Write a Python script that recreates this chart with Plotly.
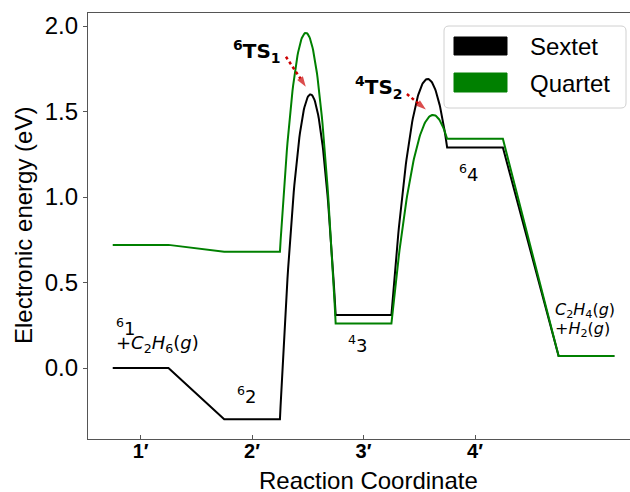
import numpy as np
import plotly.graph_objects as go

# ---------------- data ----------------
tick_labels = ["1′", "2′", "3′", "4′"]
tick_pos = [1, 2, 3, 4]
state_pos = [1, 2, 3, 4, 5]
sextet_E = [0.00, -0.30, 0.31, 1.29, 0.07]
quartet_E = [0.72, 0.68, 0.26, 1.34, 0.07]
sextet_TS = [1.60, 1.69]     # barrier tops between states 2-3 and 3-4
quartet_TS = [1.96, 1.48]
ts_after = [1, 2]            # index of the state preceding each TS
series_names = ["Sextet", "Quartet"]
series_colors = ["#000000", "#008000"]

HALF = 0.25  # half width of a level


def profile(E, TS):
    xs, ys = [], []
    for i, (p, e) in enumerate(zip(state_pos, E)):
        x0, x1 = p - HALF, p + HALF
        if i > 0 and (i - 1) in ts_after:
            k = ts_after.index(i - 1)
            prev_end = state_pos[i - 1] + HALF
            yv, ya, yb = TS[k], E[i - 1], e
            da, db = np.sqrt(yv - ya), np.sqrt(yv - yb)
            xv = prev_end + (x0 - prev_end) * da / (da + db)
            a = (yv - ya) / (prev_end - xv) ** 2
            t = np.linspace(prev_end, x0, 90)[1:-1]
            xs += list(t)
            ys += list(yv - a * (t - xv) ** 2)
        xs += [x0, x1]
        ys += [e, e]
    return xs, ys


fig = go.Figure()
for name, E, TS, col in zip(series_names, [sextet_E, quartet_E],
                            [sextet_TS, quartet_TS], series_colors):
    xs, ys = profile(E, TS)
    fig.add_trace(go.Scatter(x=xs, y=ys, mode="lines", name=name,
                             line=dict(color=col, width=2), showlegend=False,
                             hoverinfo="skip"))

# ---------------- geometry helpers ----------------
# the reference axes run past the right edge of the 630-px picture,
# so the figure is drawn a little wider and the window crops it
W, H = 648, 492
L, R, T, B = 88, 648, 13, 439


def pxx(x):
    return (x - L) / (R - L)


def pxy(y):
    return (B - y) / (B - T)


LABEL_FONT = "DejaVu Sans"
AX_FONT = "Liberation Sans, Arial, sans-serif"

ann = []
# state labels
ann += [
    dict(x=0.761, y=0.238, text="<sup>6</sup>1", xanchor="left", yanchor="middle"),
    dict(x=0.761, y=0.138, text="+<i>C</i><sub>2</sub><i>H</i><sub>6</sub>(<i>g</i>)",
         xanchor="left", yanchor="middle"),
    dict(x=1.946, y=-0.158, text="<sup>6</sup>2", xanchor="center", yanchor="middle"),
    dict(x=2.948, y=0.14, text="<sup>4</sup>3", xanchor="center", yanchor="middle"),
    dict(x=3.946, y=1.14, text="<sup>6</sup>4", xanchor="center", yanchor="middle"),
]
for a in ann:
    a.update(xref="x", yref="y", showarrow=False,
             font=dict(family=LABEL_FONT, size=18, color="black"))
small = [
    dict(x=4.697, y=0.338, text="<i>C</i><sub>2</sub><i>H</i><sub>4</sub>(<i>g</i>)"),
    dict(x=4.697, y=0.224, text="+<i>H</i><sub>2</sub>(<i>g</i>)"),
]
for a in small:
    a.update(xref="x", yref="y", showarrow=False, xanchor="left", yanchor="middle",
             font=dict(family=LABEL_FONT, size=16, color="black"))
ann += small
ts_lab = [
    dict(x=2.04, y=1.85, text="<b><sup>6</sup>TS<sub>1</sub></b>"),
    dict(x=3.139, y=1.643, text="<b><sup>4</sup>TS<sub>2</sub></b>"),
]
for a in ts_lab:
    a.update(xref="x", yref="y", showarrow=False, xanchor="center", yanchor="middle",
             font=dict(family=LABEL_FONT, size=20, color="black"))
ann += ts_lab

# arrows (dotted line ending in a filled head)
arrows = [((2.304, 1.820), (2.511, 1.616)), ((3.389, 1.602), (3.587, 1.497))]
for (sx, sy), (ex, ey) in arrows:
    f = 0.86
    mx, my = sx + f * (ex - sx), sy + f * (ey - sy)
    fig.add_trace(go.Scatter(x=[sx, mx], y=[sy, my], mode="lines+markers",
                             line=dict(color="#cc0000", width=2.5, dash="dot"),
                             marker=dict(symbol="arrow", angleref="previous",
                                         size=[0, 11], color="#cc0000",
                                         line=dict(width=0)),
                             showlegend=False, hoverinfo="skip"))

# axis titles
ann.append(dict(xref="paper", yref="paper", x=0.5, y=pxy(480),
                text="Reaction Coordinate", showarrow=False, xanchor="center",
                yanchor="middle", font=dict(family=AX_FONT, size=24, color="black")))
ann.append(dict(xref="paper", yref="paper", x=pxx(23), y=pxy(226),
                text="Electronic energy (eV)", showarrow=False, textangle=-90,
                xanchor="center", yanchor="middle",
                font=dict(family=AX_FONT, size=24, color="black")))

shapes = []
# legend (drawn)
lx0, lx1, ly0, ly1, r = 444, 626, 26, 108, 5
path = (f"M {pxx(lx0 + r)},{pxy(ly0)} L {pxx(lx1 - r)},{pxy(ly0)} "
        f"Q {pxx(lx1)},{pxy(ly0)} {pxx(lx1)},{pxy(ly0 + r)} "
        f"L {pxx(lx1)},{pxy(ly1 - r)} Q {pxx(lx1)},{pxy(ly1)} {pxx(lx1 - r)},{pxy(ly1)} "
        f"L {pxx(lx0 + r)},{pxy(ly1)} Q {pxx(lx0)},{pxy(ly1)} {pxx(lx0)},{pxy(ly1 - r)} "
        f"L {pxx(lx0)},{pxy(ly0 + r)} Q {pxx(lx0)},{pxy(ly0)} {pxx(lx0 + r)},{pxy(ly0)} Z")
shapes.append(dict(type="path", xref="paper", yref="paper", path=path,
                   fillcolor="rgba(255,255,255,0.8)", line=dict(color="#d0d0d0", width=1)))
for (y0, y1, yt), name, col in zip([(37, 55, 46), (73, 92, 83)], series_names, series_colors):
    shapes.append(dict(type="rect", xref="paper", yref="paper", x0=pxx(454), x1=pxx(507),
                       y0=pxy(y1), y1=pxy(y0), fillcolor=col, line=dict(color=col, width=1)))
    ann.append(dict(xref="paper", yref="paper", x=pxx(528), y=pxy(yt), text=name,
                    showarrow=False, xanchor="left", yanchor="middle",
                    font=dict(family=AX_FONT, size=24, color="black")))

x_lo = 1 - (140.6 - L) / 111.47
x_hi = 1 + (R - 140.6) / 111.47
y_lo = -(B - 368) / 171.0
y_hi = 2 + (26 - T) / 171.0

fig.update_layout(
    width=W, height=H, margin=dict(l=L, r=W - R, t=T, b=H - B, pad=0),
    paper_bgcolor="white", plot_bgcolor="white",
    annotations=ann, shapes=shapes, showlegend=False,
    xaxis=dict(range=[x_lo, x_hi], tickvals=tick_pos,
               ticktext=[f"<b>{t}</b>" for t in tick_labels],
               ticks="inside", ticklen=4, tickcolor="#555", showgrid=False, zeroline=False,
               showline=True, mirror=True, linecolor="#555", linewidth=1.3,
               tickfont=dict(family=AX_FONT, size=20, color="black"),
               ticklabelstandoff=-6, automargin=False),
    yaxis=dict(range=[y_lo, y_hi], tickvals=[0, 0.5, 1.0, 1.5, 2.0], tickformat=".1f",
               ticks="outside", ticklen=4, tickcolor="#555", showgrid=False, zeroline=False,
               showline=True, mirror=False, linecolor="#555", linewidth=1.3,
               tickfont=dict(family=AX_FONT, size=24, color="black"), automargin=False),
)

fig.write_html("out.html", config={"displayModeBar": False},
               post_script="document.body.style.margin='0';document.body.style.overflow='hidden';")
